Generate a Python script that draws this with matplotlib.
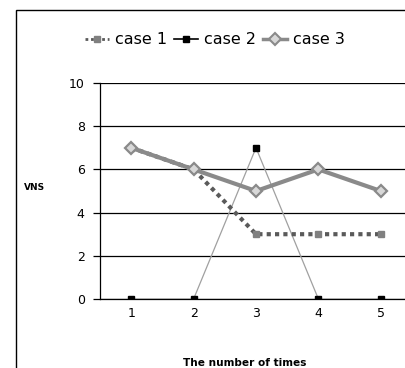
import matplotlib
matplotlib.use("Agg")
import matplotlib.pyplot as plt
from matplotlib.lines import Line2D
from matplotlib.patches import Rectangle

categories = [1, 2, 3, 4, 5]
case1 = [7, 6, 3, 3, 3]
case2 = [0, 0, 7, 0, 0]
case3 = [7, 6, 5, 6, 5]
series_names = ["case 1", "case 2", "case 3"]
yticks = [0, 2, 4, 6, 8, 10]

W, H = 406, 368
fig = plt.figure(figsize=(W / 100, H / 100), dpi=100)
fig.patch.set_facecolor("white")

# outer chart frame (cut off at right and bottom)
fig.add_artist(Rectangle((16 / W, -0.1), 1.2, 1 - 10 / H + 0.1, transform=fig.transFigure,
                         fill=False, edgecolor="black", linewidth=1.0))

left, right = 100 / W, 412 / W
bottom, top = 1 - 299 / H, 1 - 83 / H
ax = fig.add_axes([left, bottom, right - left, top - bottom])
ax.set_facecolor("none")

ax.set_xlim(0.5, 5.5)
ax.set_ylim(0, 10)
ax.set_yticks(yticks)
ax.set_xticks(categories)
ax.grid(axis="y", color="black", linewidth=0.9)
ax.set_axisbelow(True)

for s in ["top", "right"]:
    ax.spines[s].set_visible(False)
ax.spines["left"].set_linewidth(0.9)
ax.spines["bottom"].set_linewidth(0.9)
ax.tick_params(axis="y", length=5, width=0.9, direction="out", labelsize=9, pad=6)
ax.tick_params(axis="x", length=0, labelsize=9, pad=6)

ax.plot(categories, case2, color="#a0a0a0", linewidth=0.9, marker="s", markersize=4.5,
        markerfacecolor="black", markeredgecolor="black", zorder=3)
ax.plot(categories, case1, color="#5a5a5a", linewidth=3, linestyle=(0, (1, 1)),
        marker="s", markersize=5, markerfacecolor="#808080", markeredgecolor="#808080", zorder=4)
ax.plot(categories, case3, color="#8a8a8a", linewidth=3, marker="D", markersize=6,
        markerfacecolor="#d8d8d8", markeredgecolor="#8a8a8a", markeredgewidth=1.6, zorder=5)

ax.set_xlabel("The number of times", fontsize=7.6, fontweight="bold")
ax.xaxis.set_label_coords((245 - 100) / 312, -(358 - 299) / 216)
ax.set_ylabel("VNS", fontsize=6.5, fontweight="bold", rotation=0)
ax.yaxis.set_label_coords(-(100 - 35) / 312, (299 - 192) / 216)

handles = [
    Line2D([], [], color="#5a5a5a", linewidth=2, linestyle=(0, (1, 1)), marker="s",
           markersize=5, markerfacecolor="#808080", markeredgecolor="#808080"),
    Line2D([], [], color="black", linewidth=1.2, marker="s", markersize=5,
           markerfacecolor="black", markeredgecolor="black"),
    Line2D([], [], color="#8a8a8a", linewidth=2.5, marker="D", markersize=6,
           markerfacecolor="#d8d8d8", markeredgecolor="#8a8a8a", markeredgewidth=1.5),
]
fig.legend(handles, series_names, loc="center", bbox_to_anchor=(215 / W, 1 - 40 / H),
           ncol=3, frameon=False, fontsize=11.5, handlelength=1.5, handletextpad=0.4,
           columnspacing=0.4)

fig.savefig("out.png", dpi=100)
